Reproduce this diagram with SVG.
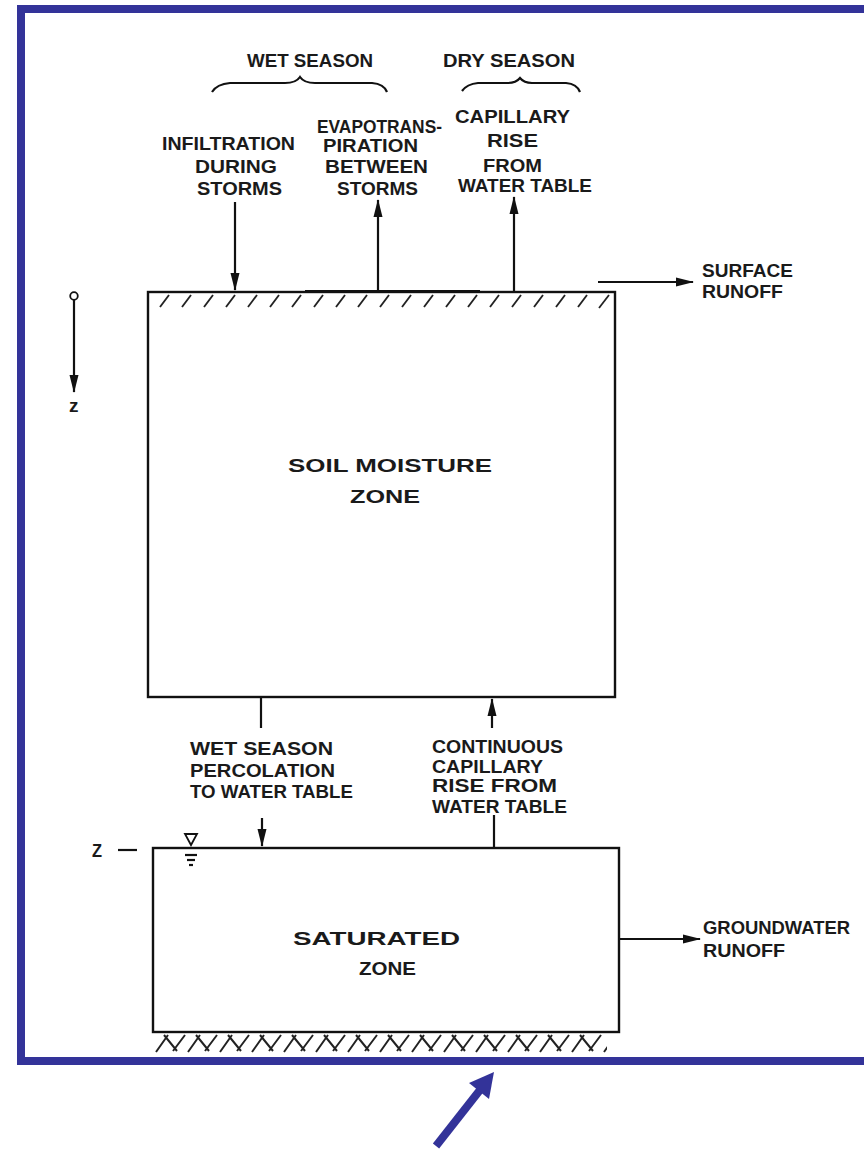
<svg xmlns="http://www.w3.org/2000/svg" width="864" height="1149" viewBox="0 0 864 1149">
<style>
.t{font-family:"Liberation Sans",Arial,sans-serif;font-size:19px;font-weight:bold;fill:#1a1a1a}
.ln{stroke:#111;stroke-width:2.2;fill:none}
.box{stroke:#111;stroke-width:2.4;fill:#fff}
.h{stroke:#222;stroke-width:1.8}
</style>
<defs>
<marker id="ahb" viewBox="0 0 18 10" refX="17" refY="5" markerWidth="18" markerHeight="10" markerUnits="userSpaceOnUse" orient="auto">
<path d="M0,0.5 L18,5 L0,9.5 z" fill="#111"/>
</marker>
<pattern id="earth" x="155" y="1034" width="32" height="19" patternUnits="userSpaceOnUse">
<path d="M1,18 L13,1 M9,1 L22,17 M18,17 L30,1" stroke="#222" stroke-width="2" fill="none"/>
</pattern>
</defs>
<rect width="864" height="1149" fill="#fff"/>
<rect id="frame" x="21" y="9" width="900" height="1052" fill="none" stroke="#333399" stroke-width="8"/>

<g id="seasons">
<text class="t" x="247" y="67" textLength="126" lengthAdjust="spacingAndGlyphs">WET SEASON</text>
<text class="t" x="443" y="67" textLength="132" lengthAdjust="spacingAndGlyphs">DRY SEASON</text>
<path class="ln" stroke-width="1.8" d="M212,92 Q217,84 230,83 L285,83 Q296,83 300,77 Q304,83 315,83 L372,83 Q384,84 387,92"/>
<path class="ln" stroke-width="1.8" d="M462,91 Q467,84 478,83 L508,83 Q516,83 520,78 Q524,83 532,83 L566,83 Q577,84 580,92"/>
</g>

<g id="soil">
<rect class="box" x="148" y="292" width="467" height="405"/>
<line x1="305" y1="291.5" x2="480" y2="291.5" stroke="#111" stroke-width="3"/>
<g class="h">
<line x1="169" y1="295" x2="160" y2="307"/><line x1="191" y1="295" x2="182" y2="307"/>
<line x1="213" y1="295" x2="204" y2="307"/><line x1="235" y1="295" x2="226" y2="307"/>
<line x1="257" y1="295" x2="248" y2="307"/><line x1="279" y1="295" x2="270" y2="307"/>
<line x1="301" y1="295" x2="292" y2="307"/><line x1="323" y1="295" x2="314" y2="307"/>
<line x1="345" y1="295" x2="336" y2="307"/><line x1="367" y1="295" x2="358" y2="307"/>
<line x1="389" y1="295" x2="380" y2="307"/><line x1="411" y1="295" x2="402" y2="307"/>
<line x1="433" y1="295" x2="424" y2="307"/><line x1="455" y1="295" x2="446" y2="307"/>
<line x1="477" y1="295" x2="468" y2="307"/><line x1="499" y1="295" x2="490" y2="307"/>
<line x1="521" y1="295" x2="512" y2="307"/><line x1="543" y1="295" x2="534" y2="307"/>
<line x1="565" y1="295" x2="556" y2="307"/><line x1="587" y1="295" x2="578" y2="307"/>
<line x1="609" y1="295" x2="599" y2="308"/>
</g>
<text class="t" x="288" y="472" textLength="204" lengthAdjust="spacingAndGlyphs">SOIL MOISTURE</text>
<text class="t" x="350" y="503" textLength="70" lengthAdjust="spacingAndGlyphs">ZONE</text>
</g>

<g id="saturated">
<rect class="box" x="153" y="848" width="466" height="184"/>
<text class="t" x="293" y="945" textLength="167" lengthAdjust="spacingAndGlyphs">SATURATED</text>
<text class="t" x="359" y="975" textLength="57" lengthAdjust="spacingAndGlyphs">ZONE</text>
<rect x="155" y="1034" width="452" height="19" fill="url(#earth)"/>
</g>

<g id="labels">
<text class="t" x="162" y="150" textLength="133" lengthAdjust="spacingAndGlyphs">INFILTRATION</text>
<text class="t" x="195" y="173" textLength="82" lengthAdjust="spacingAndGlyphs">DURING</text>
<text class="t" x="197" y="195" textLength="85" lengthAdjust="spacingAndGlyphs">STORMS</text>
<text class="t" x="317" y="133" textLength="125" lengthAdjust="spacingAndGlyphs">EVAPOTRANS-</text>
<text class="t" x="323" y="152" textLength="95" lengthAdjust="spacingAndGlyphs">PIRATION</text>
<text class="t" x="325" y="173" textLength="103" lengthAdjust="spacingAndGlyphs">BETWEEN</text>
<text class="t" x="337" y="195" textLength="81" lengthAdjust="spacingAndGlyphs">STORMS</text>
<text class="t" x="455" y="123" textLength="115" lengthAdjust="spacingAndGlyphs">CAPILLARY</text>
<text class="t" x="487" y="147" textLength="51" lengthAdjust="spacingAndGlyphs">RISE</text>
<text class="t" x="483" y="172" textLength="59" lengthAdjust="spacingAndGlyphs">FROM</text>
<text class="t" x="458" y="192" textLength="134" lengthAdjust="spacingAndGlyphs">WATER TABLE</text>
<text class="t" x="702" y="277" textLength="91" lengthAdjust="spacingAndGlyphs">SURFACE</text>
<text class="t" x="702" y="298" textLength="81" lengthAdjust="spacingAndGlyphs">RUNOFF</text>
<text class="t" x="190" y="755" textLength="143" lengthAdjust="spacingAndGlyphs">WET SEASON</text>
<text class="t" x="190" y="777" textLength="145" lengthAdjust="spacingAndGlyphs">PERCOLATION</text>
<text class="t" x="190" y="798" textLength="163" lengthAdjust="spacingAndGlyphs">TO WATER TABLE</text>
<text class="t" x="432" y="753" textLength="131" lengthAdjust="spacingAndGlyphs">CONTINUOUS</text>
<text class="t" x="432" y="773" textLength="111" lengthAdjust="spacingAndGlyphs">CAPILLARY</text>
<text class="t" x="432" y="792" textLength="125" lengthAdjust="spacingAndGlyphs">RISE FROM</text>
<text class="t" x="432" y="813" textLength="135" lengthAdjust="spacingAndGlyphs">WATER TABLE</text>
<text class="t" x="703" y="934" textLength="147" lengthAdjust="spacingAndGlyphs">GROUNDWATER</text>
<text class="t" x="703" y="957" textLength="82" lengthAdjust="spacingAndGlyphs">RUNOFF</text>
<text class="t" x="92" y="857" font-size="17" textLength="10" lengthAdjust="spacingAndGlyphs">Z</text>
<text class="t" x="69" y="412" font-size="14">z</text>
</g>

<g id="connectors">
<line class="ln" x1="235" y1="202" x2="235" y2="290" marker-end="url(#ahb)"/>
<line class="ln" x1="378" y1="291" x2="378" y2="200" marker-end="url(#ahb)"/>
<line class="ln" x1="514" y1="291" x2="514" y2="197" marker-end="url(#ahb)"/>
<line class="ln" x1="598" y1="282" x2="693" y2="282" marker-end="url(#ahb)"/>
<line class="ln" x1="620" y1="939" x2="700" y2="939" marker-end="url(#ahb)"/>
<line class="ln" x1="261" y1="697" x2="261" y2="728"/>
<line class="ln" x1="262" y1="818" x2="262" y2="846" marker-end="url(#ahb)"/>
<line class="ln" x1="492" y1="728" x2="492" y2="699" marker-end="url(#ahb)"/>
<line class="ln" x1="494" y1="815" x2="494" y2="848"/>
<circle cx="74" cy="296" r="3.8" fill="none" stroke="#111" stroke-width="1.8"/>
<line class="ln" x1="74" y1="300" x2="74" y2="392" marker-end="url(#ahb)"/>
<line class="ln" x1="118" y1="850" x2="137" y2="850"/>
<path d="M185,834 L197,834 L191,845 z" fill="none" stroke="#111" stroke-width="1.8"/>
<line class="ln" x1="185" y1="855" x2="197" y2="855" stroke-width="1.6"/>
<line class="ln" x1="187" y1="860" x2="195" y2="860" stroke-width="1.6"/>
<line class="ln" x1="189" y1="865" x2="193" y2="865" stroke-width="1.6"/>
</g>

<g id="pointer">
<line x1="436" y1="1146" x2="480" y2="1090" stroke="#333399" stroke-width="8"/>
<path d="M494,1072 L469,1083 L489,1099 z" fill="#333399"/>
</g>
</svg>
